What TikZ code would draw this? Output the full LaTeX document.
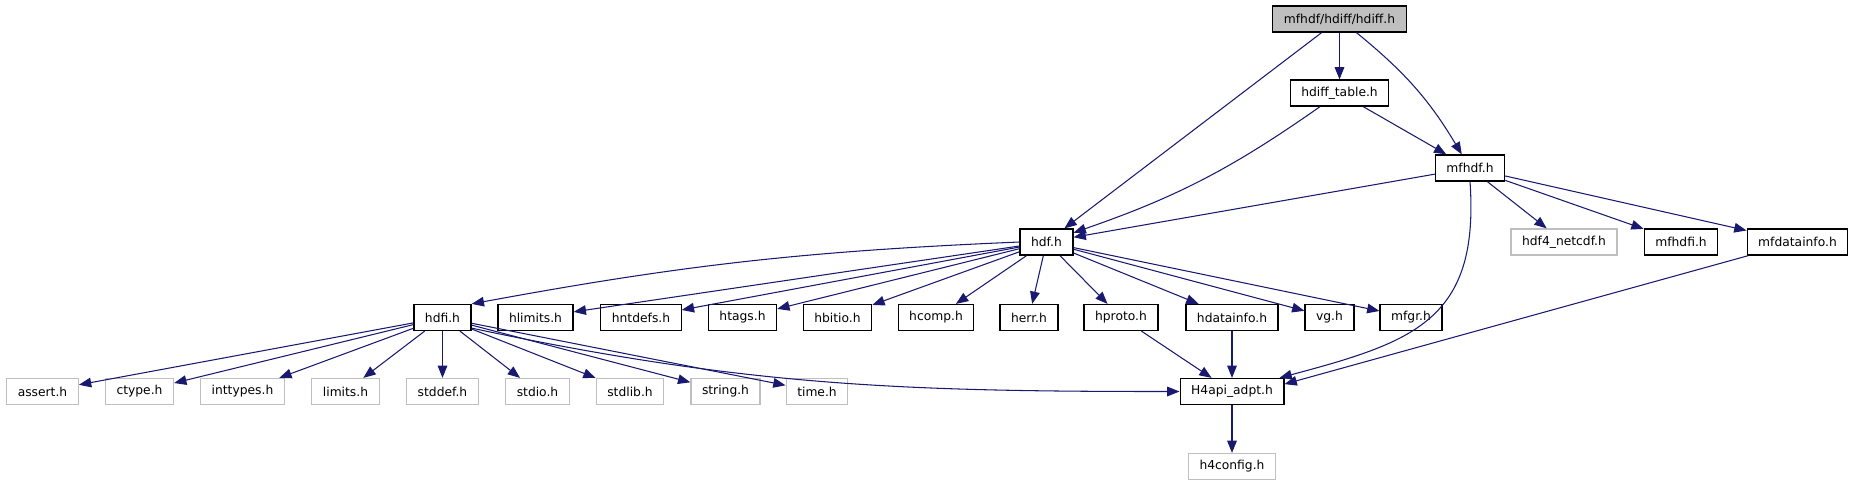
\documentclass[tikz,border=0pt]{standalone}
\usepackage{fontspec}
\setmainfont{DejaVu Sans}
\usepackage{tikz}
\usetikzlibrary{arrows.meta}
\definecolor{edgeblue}{HTML}{191970}
\definecolor{extgray}{HTML}{BFBFBF}

\begin{document}
\begin{tikzpicture}[x=0.02cm, y=0.02cm,
			box/.style={rectangle, draw=black, fill=white, line width=0.7pt,
				font=\fontsize{7}{8}\selectfont, inner xsep=6.3pt,
				inner ysep=0pt, minimum height=14.8pt},
			ext/.style={box, draw=extgray},
			cur/.style={box, fill=extgray},
			arr/.style={-{Triangle[length=7pt, width=5.5pt]}, draw=edgeblue,
				line width=0.6pt}
			]
			\useasboundingbox (0,0) rectangle (1856,485);

			\node[cur] (hdiff)   at (1339.5,466) {mfhdf/hdiff/hdiff.h};
			\node[box] (table)   at (1339.5,392) {hdiff\_table.h};
			\node[box] (mfhdf)   at (1470,317)   {mfhdf.h};
			\node[box] (hdf)     at (1046.5,243) {hdf.h};
			\node[ext] (netcdf)  at (1564,243)   {hdf4\_netcdf.h};
			\node[box] (mfhdfi)  at (1681,243)   {mfhdfi.h};
			\node[box] (mfdinfo) at (1797.5,243) {mfdatainfo.h};

			\node[box] (hdfi)    at (442.5,167.5) {hdfi.h};
			\node[box] (hlimits) at (535.5,167.5) {hlimits.h};
			\node[box] (hntdefs) at (641,167.5)   {hntdefs.h};
			\node[box] (htags)   at (742.5,167.5) {htags.h};
			\node[box] (hbitio)  at (837.5,167.5) {hbitio.h};
			\node[box] (hcomp)   at (936,167.5)   {hcomp.h};
			\node[box] (herr)    at (1029,167.5)  {herr.h};
			\node[box] (hproto)  at (1121,167.5)  {hproto.h};
			\node[box] (hdinfo)  at (1232,167.5)  {hdatainfo.h};
			\node[box] (vg)      at (1329.5,167.5) {vg.h};
			\node[box] (mfgr)    at (1411,167.5)  {mfgr.h};

			\node[ext] (assert)   at (42.5,93.5)  {assert.h};
			\node[ext] (ctype)    at (139.5,93.5) {ctype.h};
			\node[ext] (inttypes) at (242.5,93.5) {inttypes.h};
			\node[ext] (limits)   at (345.5,93.5) {limits.h};
			\node[ext] (stddef)   at (442.5,93.5) {stddef.h};
			\node[ext] (stdio)    at (537.5,93.5) {stdio.h};
			\node[ext] (stdlib)   at (630,93.5)   {stdlib.h};
			\node[ext] (string)   at (725.5,93.5) {string.h};
			\node[ext] (time)     at (817,93.5)   {time.h};
			\node[box] (adpt)     at (1232,93.5)  {H4api\_adpt.h};
			\node[ext] (config)   at (1232,18.5)  {h4config.h};

			\draw[arr] (hdiff)   -- (hdf);
			\draw[arr] (hdiff)   -- (table);
			\draw[arr] (hdiff)   to[bend left=10] (mfhdf);
			\draw[arr] (table)   to[bend left=8] (hdf);
			\draw[arr] (table)   -- (mfhdf);
			\draw[arr] (mfhdf)   -- (hdf);
			\draw[arr] (mfhdf)   -- (netcdf);
			\draw[arr] (mfhdf)   -- (mfhdfi);
			\draw[arr] (mfhdf)   -- (mfdinfo);
			\draw[arr] (mfhdf.south) to[out=-86, in=15, looseness=1.3] (adpt.16);
			\draw[arr] (mfdinfo) -- (adpt.8);

			\draw[arr] (hdf.west) to[bend right=4] (hdfi.25);
			\draw[arr] (hdf)     -- (hlimits);
			\draw[arr] (hdf)     -- (hntdefs);
			\draw[arr] (hdf)     -- (htags);
			\draw[arr] (hdf)     -- (hbitio);
			\draw[arr] (hdf)     -- (hcomp);
			\draw[arr] (hdf)     -- (herr);
			\draw[arr] (hdf)     -- (hproto);
			\draw[arr] (hdf)     -- (hdinfo);
			\draw[arr] (hdf)     -- (vg);
			\draw[arr] (hdf)     -- (mfgr);

			\draw[arr] (hdfi)    -- (assert);
			\draw[arr] (hdfi)    -- (ctype);
			\draw[arr] (hdfi)    -- (inttypes);
			\draw[arr] (hdfi)    -- (limits);
			\draw[arr] (hdfi)    -- (stddef);
			\draw[arr] (hdfi)    -- (stdio);
			\draw[arr] (hdfi)    -- (stdlib);
			\draw[arr] (hdfi)    -- (string);
			\draw[arr] (hdfi)    -- (time);
			\draw[arr] (hdfi.-20) to[out=-12, in=180] (adpt);

			\draw[arr] (hproto)  -- (adpt);
			\draw[arr] (hdinfo)  -- (adpt);
			\draw[arr] (adpt)    -- (config);
		\end{tikzpicture}
\end{document}
